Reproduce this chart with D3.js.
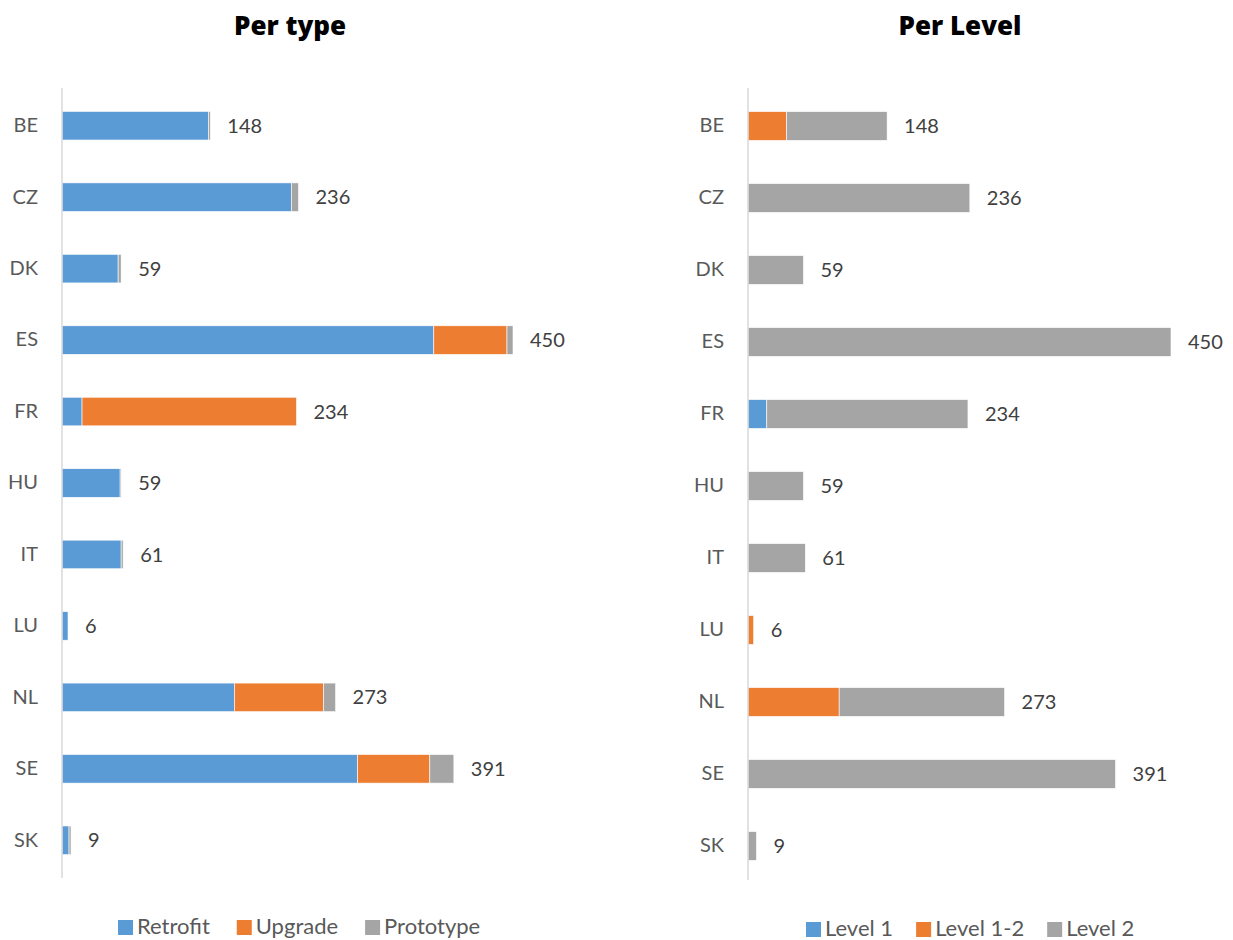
<!DOCTYPE html>
<html>
<head>
<meta charset="utf-8">
<script src="https://cdn.jsdelivr.net/npm/d3@7"></script>
<style>
  html, body { margin: 0; padding: 0; background: #fff; }
  svg { display: block; font-family: Lato, "Open Sans", sans-serif; }
</style>
</head>
<body>
<svg id="chart" width="1233" height="940"></svg>
<script>
// Countries, top to bottom
const countries = ["BE", "CZ", "DK", "ES", "FR", "HU", "IT", "LU", "NL", "SE", "SK"];

// Per type
const typeKeys = ["Retrofit", "Upgrade", "Prototype"];
const retrofit  = [146, 229, 56, 371, 20, 58, 59, 6, 172, 295, 7];
const upgrade   = [0,   0,   0,  73, 214, 0,  0,  0, 89,  72,  0];
const prototype = [2,   7,   3,  6,  0,   1,  2,  0, 12,  24,  2];

// Per level
const levelKeys = ["Level 1", "Level 1-2", "Level 2"];
const level1  = [0,   0,   0,  0,   20,  0,  0,  0, 0,   0,   0];
const level12 = [41,  0,   0,  0,   0,   0,  0,  6, 97,  0,   0];
const level2  = [107, 236, 59, 450, 214, 59, 61, 0, 176, 391, 9];

const colors = ["#5b9bd5", "#ed7d31", "#a5a5a5"];

const svg = d3.select("#chart");

function drawPanel(opts) {
  const { title, titleX, keys, series, x0, x1, yTop, yBottom, axisTop, axisBottom,
          labelX, legendY, legendX, legendGap } = opts;

  const rows = countries.map((c, i) => {
    const r = { country: c };
    keys.forEach((k, j) => r[k] = series[j][i]);
    return r;
  });
  const stacked = d3.stack().keys(keys)(rows);

  const x = d3.scaleLinear().domain([0, 450]).range([x0, x1]);
  const y = d3.scaleBand().domain(countries).range([yTop, yBottom]).paddingInner(0.6).paddingOuter(0.3);

  const g = svg.append("g");

  g.append("text")
    .attr("x", titleX).attr("y", 35)
    .attr("text-anchor", "middle")
    .attr("font-family", "'Open Sans', 'Noto Sans', sans-serif")
    .attr("font-size", 26).attr("font-weight", 800)
    .attr("fill", "#000")
    .text(title);

  // bars
  g.selectAll("g.series").data(stacked).join("g")
    .attr("fill", (d, i) => colors[i])
    .selectAll("rect").data(d => d).join("rect")
      .attr("x", d => x(d[0]))
      .attr("y", d => y(d.data.country))
      .attr("width", d => Math.max(0, x(d[1]) - x(d[0])))
      .attr("height", y.bandwidth())
      .attr("stroke", "#fff")
      .attr("stroke-width", d => (d[1] - d[0]) > 0 ? 0.6 : 0);

  // category axis line
  g.append("line")
    .attr("x1", x0).attr("x2", x0)
    .attr("y1", axisTop).attr("y2", axisBottom)
    .attr("stroke", "#d9d9d9").attr("stroke-width", 1.5);

  // category labels
  const yAxis = d3.axisLeft(y).tickSize(0).tickPadding(0);
  const ax = g.append("g").attr("transform", `translate(${labelX},0)`).call(yAxis);
  ax.select(".domain").remove();
  ax.selectAll("text")
    .attr("font-size", 20).attr("fill", "#595959")
    .attr("font-family", "Lato, 'Open Sans', sans-serif");

  // totals
  g.selectAll("text.total").data(rows).join("text")
    .attr("class", "total")
    .attr("x", d => x(d3.sum(keys, k => d[k])) + 17)
    .attr("y", d => y(d.country) + y.bandwidth() / 2 + 2)
    .attr("dominant-baseline", "middle")
    .attr("font-size", 20).attr("fill", "#404040")
    .text(d => d3.sum(keys, k => d[k]));

  // legend
  const lg = g.append("g").attr("transform", `translate(0,${legendY})`);
  let cx = legendX;
  keys.forEach((k, i) => {
    lg.append("rect").attr("x", cx).attr("y", -7).attr("width", 15).attr("height", 15).attr("fill", colors[i]);
    const t = lg.append("text").attr("x", cx + 19).attr("y", 1)
      .attr("dominant-baseline", "middle")
      .attr("font-size", 22).attr("fill", "#595959").text(k);
    cx += 19 + t.node().getComputedTextLength() + legendGap;
  });
}

drawPanel({
  title: "Per type", titleX: 290,
  keys: typeKeys, series: [retrofit, upgrade, prototype],
  x0: 62, x1: 513, yTop: 90, yBottom: 876, axisTop: 88, axisBottom: 878,
  labelX: 38, legendY: 927, legendX: 118, legendGap: 27
});

drawPanel({
  title: "Per Level", titleX: 960,
  keys: levelKeys, series: [level1, level12, level2],
  x0: 748, x1: 1171, yTop: 90, yBottom: 882, axisTop: 88, axisBottom: 880,
  labelX: 724, legendY: 929, legendX: 806, legendGap: 23
});
</script>
</body>
</html>
